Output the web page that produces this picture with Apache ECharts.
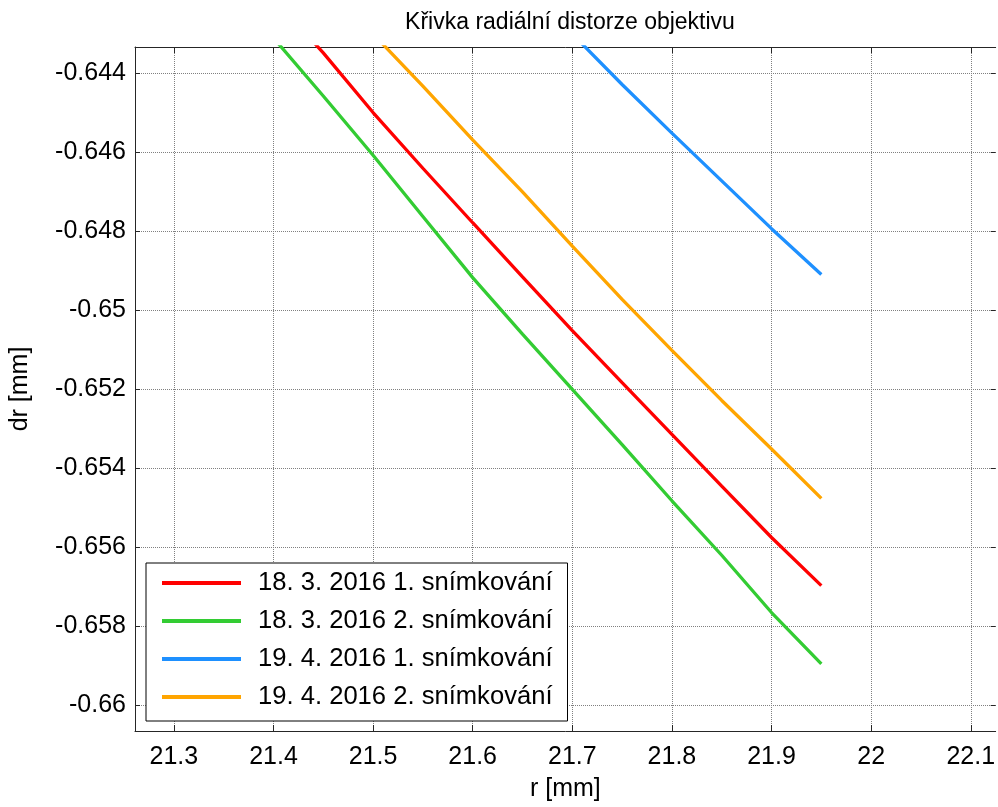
<!DOCTYPE html>
<html>
<head>
    <meta charset="utf-8">
    <script src="https://cdn.jsdelivr.net/npm/echarts@6/dist/echarts.min.js"></script>
    <title>Křivka radiální distorze objektivu</title>
    <style>
        html, body { margin: 0; padding: 0; background: #fff; }
    </style>
</head>
<body>
    <div id="main" style="width:998px; height:807px;"></div>
    <script type="text/javascript">
        // values: [r, dr]
        var red18a = [[21.44, -0.6432], [21.45, -0.64348], [21.5, -0.64499], [21.55, -0.6464], [21.6, -0.64778],
            [21.65, -0.64915], [21.7, -0.65051], [21.75, -0.65183], [21.8, -0.65314], [21.85, -0.65445],
            [21.9, -0.65575], [21.95, -0.65697]];
        var green18b = [[21.4, -0.6431], [21.45, -0.64457], [21.5, -0.64607], [21.55, -0.64762], [21.6, -0.64917],
            [21.65, -0.6506], [21.7, -0.652], [21.75, -0.6534], [21.8, -0.65482], [21.85, -0.6562],
            [21.9, -0.65765], [21.95, -0.65895]];
        var blue19a = [[21.7, -0.643], [21.75, -0.64428], [21.8, -0.64551], [21.85, -0.64672], [21.9, -0.64793],
            [21.95, -0.64909]];
        var orange19b = [[21.5, -0.643], [21.55, -0.64432], [21.6, -0.64568], [21.65, -0.647], [21.7, -0.64837],
            [21.75, -0.64972], [21.8, -0.65101], [21.85, -0.65228], [21.9, -0.65351], [21.95, -0.65476]];

        var seriesNames = ['18. 3. 2016 1. snímkování', '18. 3. 2016 2. snímkování',
            '19. 4. 2016 1. snímkování', '19. 4. 2016 2. snímkování'];
        var seriesColors = ['#ff0000', '#33cc33', '#1e90ff', '#ffa500'];

        var xTicks = [21.3, 21.4, 21.5, 21.6, 21.7, 21.8, 21.9, 22, 22.1];
        var yTicks = [-0.66, -0.658, -0.656, -0.654, -0.652, -0.65, -0.648, -0.646, -0.644];

        var font = '"Liberation Sans", Arial, sans-serif';
        var xMin = 21.261, xMax = 22.125, yMin = -0.66065, yMax = -0.64333;

        var myChart = echarts.init(document.getElementById('main'));

        var gridLine = { show: true, lineStyle: { color: '#808080', type: 'dotted', width: 1 } };
        var frameLine = { show: true, onZero: false, lineStyle: { color: '#262626', width: 1 } };

        var data = [red18a, green18b, blue19a, orange19b];
        var series = [];
        for (var i = 0; i < data.length; i++) {
            series.push({
                name: seriesNames[i],
                type: 'line',
                data: data[i],
                showSymbol: false,
                symbol: 'none',
                lineStyle: { color: seriesColors[i], width: 3.3 },
                itemStyle: { color: seriesColors[i] },
                xAxisIndex: 0,
                yAxisIndex: 0
            });
        }

        var option = {
            animation: false,
            backgroundColor: '#ffffff',
            textStyle: { fontFamily: font },
            title: {
                text: 'Křivka radiální distorze objektivu',
                left: 565,
                textAlign: 'center',
                top: 6,
                textStyle: { fontFamily: font, fontSize: 23, fontWeight: 'normal', color: '#000' }
            },
            legend: {
                orient: 'vertical',
                left: 146,
                top: 563,
                padding: [6, 15, 10, 16],
                backgroundColor: '#fff',
                borderColor: '#000',
                borderWidth: 1,
                itemWidth: 79,
                itemHeight: 4,
                itemGap: 10,
                icon: 'rect',
                textStyle: { fontFamily: font, fontSize: 25.6, color: '#000', lineHeight: 28, padding: [0, 0, 0, 12] },
                data: seriesNames
            },
            grid: { left: 132, right: 0, top: 47, bottom: 75 },
            xAxis: [{
                type: 'value',
                position: 'bottom',
                min: xMin,
                max: xMax,
                name: 'r [mm]',
                nameLocation: 'middle',
                nameGap: 46,
                nameTextStyle: { fontFamily: font, fontSize: 25, color: '#000' },
                axisLine: frameLine,
                axisTick: { show: true, inside: true, length: 6, customValues: xTicks, lineStyle: { color: '#262626' } },
                axisLabel: { customValues: xTicks, margin: 14, fontFamily: font, fontSize: 25, color: '#000' },
                splitLine: gridLine
            }, {
                type: 'value',
                position: 'top',
                min: xMin,
                max: xMax,
                axisLine: frameLine,
                axisTick: { show: true, inside: true, length: 6, customValues: xTicks, lineStyle: { color: '#262626' } },
                axisLabel: { show: false },
                splitLine: { show: false }
            }],
            yAxis: [{
                type: 'value',
                position: 'left',
                min: yMin,
                max: yMax,
                name: 'dr [mm]',
                nameLocation: 'middle',
                nameGap: 102,
                nameRotate: 90,
                nameTextStyle: { fontFamily: font, fontSize: 25, color: '#000' },
                axisLine: frameLine,
                axisTick: { show: true, inside: true, length: 5, customValues: yTicks, lineStyle: { color: '#262626' } },
                axisLabel: { customValues: yTicks, margin: 9, fontFamily: font, fontSize: 25, color: '#000' },
                splitLine: gridLine
            }, {
                type: 'value',
                position: 'right',
                min: yMin,
                max: yMax,
                axisLine: { show: false },
                axisTick: { show: true, inside: true, length: 5, customValues: yTicks, lineStyle: { color: '#262626' } },
                axisLabel: { show: false },
                splitLine: { show: false }
            }],
            series: series
        };

        myChart.setOption(option);
    </script>
</body>
</html>
